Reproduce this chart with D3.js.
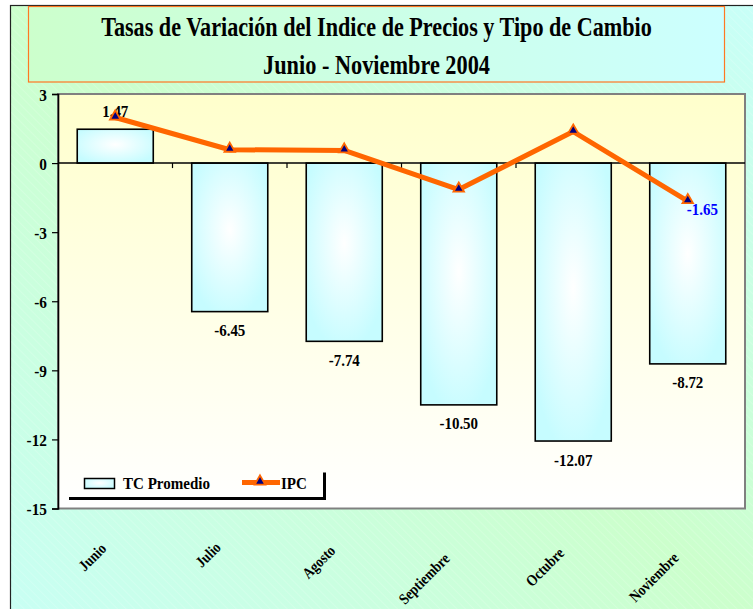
<!DOCTYPE html>
<html>
<head>
<meta charset="utf-8">
<script src="https://cdn.jsdelivr.net/npm/d3@7"></script>
<style>
  html, body { margin: 0; padding: 0; background: #ffffff; }
  svg { display: block; }
  text { font-family: "Liberation Serif", "DejaVu Serif", serif; font-weight: bold; }
</style>
</head>
<body>
<svg id="chart" width="753" height="609"></svg>
<script>
// ---- data ----
const categories = ["Junio", "Julio", "Agosto", "Septiembre", "Octubre", "Noviembre"];
const tcPromedio = [1.47, -6.45, -7.74, -10.50, -12.07, -8.72];
const ipc = [1.98, 0.58, 0.55, -1.15, 1.37, -1.65];
const yTicks = [3, 0, -3, -6, -9, -12, -15];
const titleLines = ["Tasas de Variación del Indice de Precios y Tipo de Cambio", "Junio - Noviembre 2004"];
const seriesNames = ["TC Promedio", "IPC"];

// ---- layout ----
const plot = { left: 58, right: 745, top: 94, bottom: 508.5 };
const svg = d3.select("#chart");
const defs = svg.append("defs");

// gradients
const bg = defs.append("linearGradient").attr("id", "bgGrad")
  .attr("x1", 0).attr("y1", 1).attr("x2", 1).attr("y2", 0);
bg.append("stop").attr("offset", "0%").attr("stop-color", "#c8fff6");
bg.append("stop").attr("offset", "50%").attr("stop-color", "#ccffcc");
bg.append("stop").attr("offset", "100%").attr("stop-color", "#c8fffa");

const tg = defs.append("linearGradient").attr("id", "titleGrad")
  .attr("x1", 0).attr("y1", 0).attr("x2", 1).attr("y2", 0);
tg.append("stop").attr("offset", "0%").attr("stop-color", "#ccffcc");
tg.append("stop").attr("offset", "100%").attr("stop-color", "#ccffff");

const pg = defs.append("linearGradient").attr("id", "plotGrad")
  .attr("x1", 0).attr("y1", 0).attr("x2", 0).attr("y2", 1);
pg.append("stop").attr("offset", "0%").attr("stop-color", "#ffffcc");
pg.append("stop").attr("offset", "100%").attr("stop-color", "#ffffff");

const barG = defs.append("radialGradient").attr("id", "barGrad")
  .attr("cx", "50%").attr("cy", "45%").attr("r", "60%");
barG.append("stop").attr("offset", "0%").attr("stop-color", "#ffffff");
barG.append("stop").attr("offset", "100%").attr("stop-color", "#c6fcff");

const hatch = defs.append("pattern").attr("id", "hatch")
  .attr("patternUnits", "userSpaceOnUse").attr("width", 6).attr("height", 6)
  .attr("patternTransform", "rotate(-45)");
hatch.append("line").attr("x1", 0).attr("y1", 0).attr("x2", 0).attr("y2", 6)
  .attr("stroke", "#ffffff").attr("stroke-width", 1).attr("stroke-opacity", 0.3);

// chart background
svg.append("rect").attr("x", 10.5).attr("y", 5.5).attr("width", 780).attr("height", 640)
  .attr("fill", "url(#bgGrad)").attr("stroke", "#222").attr("stroke-width", 1.2);
svg.append("rect").attr("x", 11).attr("y", 6).attr("width", 780).attr("height", 640)
  .attr("fill", "url(#hatch)");

// title box
svg.append("rect").attr("x", 28.5).attr("y", 6.5).attr("width", 696).attr("height", 75.5)
  .attr("fill", "url(#titleGrad)").attr("stroke", "#ff7722").attr("stroke-width", 1.2);
const titleSpecs = [{ y: 36, w: 551 }, { y: 74, w: 227 }];
titleLines.forEach((t, i) => {
  const el = svg.append("text").attr("text-anchor", "middle")
    .attr("font-size", 27).attr("fill", "#000").text(t);
  const len = el.node().getComputedTextLength();
  const sx = titleSpecs[i].w / len;
  el.attr("transform", `translate(376.5,${titleSpecs[i].y}) scale(${sx},1)`);
});

// plot area
svg.append("rect").attr("x", plot.left).attr("y", plot.top)
  .attr("width", plot.right - plot.left).attr("height", plot.bottom - plot.top)
  .attr("fill", "url(#plotGrad)").attr("stroke", "#808080").attr("stroke-width", 2);

// scales
const x = d3.scaleBand().domain(categories).range([plot.left, plot.right])
  .paddingInner(0.336).paddingOuter(0.168);
const y = d3.scaleLinear().domain([-15, 3]).range([plot.bottom, plot.top]);
const step = x.step();

// bars
svg.append("g").selectAll("rect").data(tcPromedio).join("rect")
  .attr("x", (d, i) => x(categories[i]))
  .attr("y", d => y(Math.max(0, d)))
  .attr("width", x.bandwidth())
  .attr("height", d => Math.abs(y(d) - y(0)))
  .attr("fill", "url(#barGrad)").attr("stroke", "#000").attr("stroke-width", 1.6);

// zero line and category ticks
svg.append("line").attr("x1", plot.left).attr("x2", plot.right)
  .attr("y1", y(0)).attr("y2", y(0)).attr("stroke", "#000").attr("stroke-width", 1.5);
svg.append("g").selectAll("line").data(d3.range(1, categories.length)).join("line")
  .attr("x1", i => plot.left + i * step).attr("x2", i => plot.left + i * step)
  .attr("y1", y(0)).attr("y2", y(0) + 5).attr("stroke", "#000").attr("stroke-width", 1.2);

// y axis
const yAxis = d3.axisLeft(y).tickValues(yTicks).tickSize(6).tickFormat(d => String(d));
const ga = svg.append("g").attr("transform", `translate(${plot.left},0)`).call(yAxis);
ga.attr("font-family", null).attr("font-size", null);
ga.select(".domain").attr("stroke", "#000").attr("stroke-width", 1.6);
ga.selectAll(".tick line").attr("stroke", "#000").attr("stroke-width", 1.2);
ga.selectAll(".tick text").attr("font-size", 17).attr("fill", "#000")
  .attr("x", 0).attr("dy", null)
  .attr("transform", "translate(-11,6) scale(0.9,1)").attr("text-anchor", "end");

// bar labels
svg.append("g").selectAll("text").data(tcPromedio).join("text")
  .attr("transform", (d, i) => {
    const cx = x(categories[i]) + x.bandwidth() / 2;
    const by = d >= 0 ? y(d) - 12 : y(d) + 24.5;
    return `translate(${cx},${by}) scale(0.88,1)`;
  })
  .attr("text-anchor", "middle").attr("font-size", 17).attr("fill", "#000")
  .text(d => d.toFixed(2));

// IPC line
const line = d3.line().x((d, i) => x(categories[i]) + x.bandwidth() / 2).y(d => y(d));
svg.append("path").datum(ipc).attr("d", line).attr("fill", "none")
  .attr("stroke", "#ff6600").attr("stroke-width", 5).attr("stroke-linejoin", "round");
const tri = d3.symbol().type(d3.symbolTriangle).size(48);
svg.append("g").selectAll("path").data(ipc).join("path")
  .attr("d", tri)
  .attr("transform", (d, i) => `translate(${x(categories[i]) + x.bandwidth() / 2},${y(d) - 1})`)
  .attr("fill", "#000080").attr("stroke", "#ff6600").attr("stroke-width", 1.8);

// last IPC label in blue
const lastI = ipc.length - 1;
svg.append("text")
  .attr("transform", `translate(${x(categories[lastI]) + x.bandwidth() / 2 - 1},${y(ipc[lastI]) + 13.5}) scale(0.88,1)`)
  .attr("text-anchor", "start").attr("font-size", 17).attr("fill", "#0000ff")
  .text(ipc[lastI].toFixed(2));

// x labels rotated
const xl = svg.append("g").selectAll("text").data(categories).join("text")
  .attr("text-anchor", "end").attr("font-size", 15.5).attr("fill", "#000")
  .text(d => d);
xl.each(function(d) {
  const L = this.getComputedTextLength() * 0.86;
  const cx = x(d) + x.bandwidth() / 2;
  d3.select(this).attr("transform", `translate(${cx - 8},${540 + 0.3 * L}) rotate(-45) scale(0.86,1)`);
});

// legend
const lg = svg.append("g");
lg.append("path").attr("d", "M69,498.5 H324.5 V472.5").attr("fill", "none")
  .attr("stroke", "#000").attr("stroke-width", 3);
lg.append("rect").attr("x", 84.5).attr("y", 478.5).attr("width", 30).attr("height", 10)
  .attr("fill", "url(#barGrad)").attr("stroke", "#000").attr("stroke-width", 1.5);
lg.append("text").attr("transform", "translate(123,489) scale(0.86,1)")
  .attr("font-size", 17.5).attr("fill", "#000").text(seriesNames[0]);
lg.append("line").attr("x1", 242).attr("x2", 280).attr("y1", 482.5).attr("y2", 482.5)
  .attr("stroke", "#ff6600").attr("stroke-width", 5);
lg.append("path").attr("d", tri).attr("transform", "translate(260,481.5)")
  .attr("fill", "#000080").attr("stroke", "#ff6600").attr("stroke-width", 1.8);
lg.append("text").attr("transform", "translate(281,489) scale(0.86,1)")
  .attr("font-size", 17.5).attr("fill", "#000").text(seriesNames[1]);
</script>
</body>
</html>
